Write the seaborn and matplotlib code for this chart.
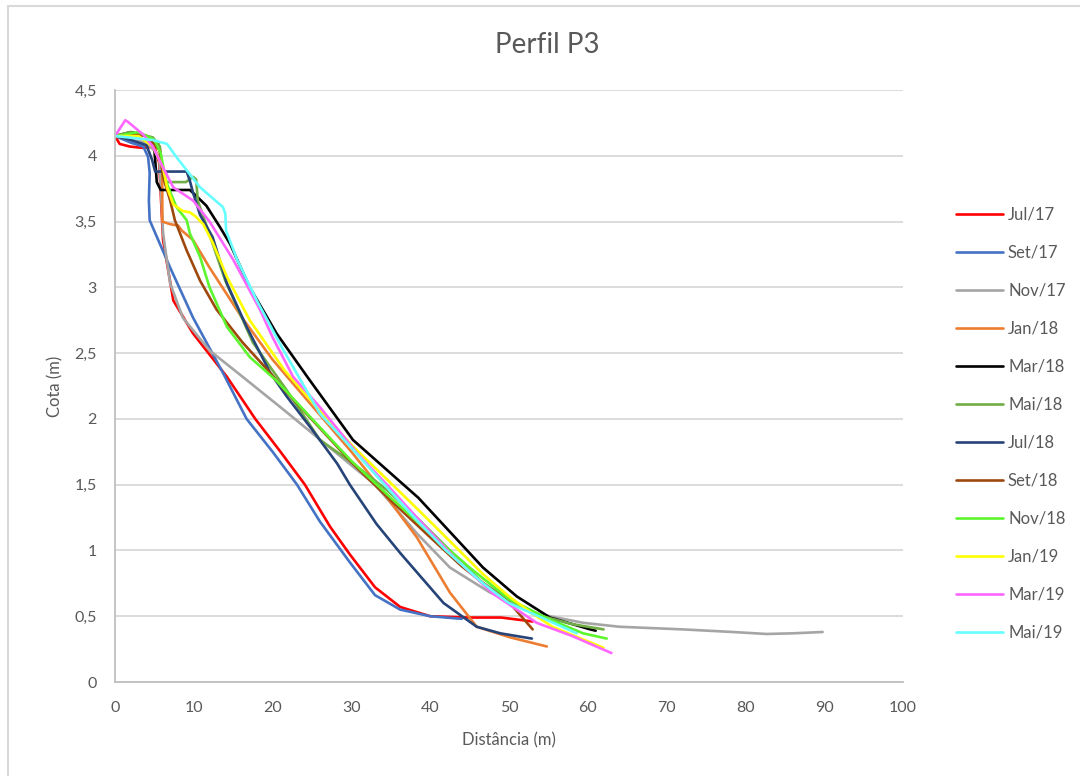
import matplotlib
matplotlib.use('Agg')
import matplotlib.pyplot as plt
import matplotlib.patches as mpatches
import matplotlib.ticker as mticker
import seaborn as sns
import pandas as pd

# === 1. Perfil P3 survey data (distance m, elevation m) ===
jul17_d = [0, 0.6, 1.9, 3.5, 5.0, 5.6, 6.1, 7.4, 9.9, 14.2, 17.8, 21, 24.1, 27.3, 29.8, 33, 36.2, 40, 45, 49, 53]
jul17_z = [4.15, 4.09, 4.07, 4.06, 4.07, 3.95, 3.36, 2.90, 2.65, 2.32, 2.0, 1.75, 1.5, 1.18, 0.97, 0.72, 0.57, 0.50, 0.49, 0.49, 0.46]

set17_d = [0, 2, 3.6, 4.2, 4.4, 4.3, 4.4, 7, 9.9, 13.7, 16.7, 20, 23.1, 26, 29.8, 33, 36.2, 40, 44]
set17_z = [4.15, 4.1, 4.07, 3.99, 3.87, 3.66, 3.51, 3.15, 2.77, 2.35, 2.0, 1.75, 1.5, 1.22, 0.91, 0.66, 0.55, 0.50, 0.48]

nov17_d = [0, 2, 4, 5.6, 6.1, 7, 8.6, 12, 16.2, 21.8, 27.7, 33, 38.3, 42.5, 47.6, 53.5, 59.4, 64, 72, 78.4, 82.7, 86, 89.8]
nov17_z = [4.15, 4.12, 4.1, 4.0, 3.41, 3.03, 2.77, 2.52, 2.32, 2.05, 1.76, 1.5, 1.13, 0.87, 0.68, 0.52, 0.45, 0.42, 0.40, 0.38, 0.365, 0.37, 0.38]

jan18_d = [0, 2, 4, 5.5, 6.0, 6.0, 7, 8, 8.5, 9.9, 12, 16, 20, 25, 30, 33.2, 38.3, 42.5, 45.9, 50.1, 54.8]
jan18_z = [4.15, 4.17, 4.15, 4.1, 3.9, 3.5, 3.48, 3.47, 3.43, 3.36, 3.15, 2.78, 2.45, 2.1, 1.75, 1.51, 1.10, 0.68, 0.42, 0.34, 0.27]

mar18_d = [0, 2, 4, 5.0, 5.3, 5.8, 7, 9.5, 10.4, 11.6, 13.3, 14.6, 17.1, 20.5, 24.4, 30.2, 38.5, 46.7, 51, 55.2, 60.3, 61]
mar18_z = [4.15, 4.18, 4.15, 4.05, 3.80, 3.74, 3.74, 3.74, 3.69, 3.62, 3.46, 3.33, 3.0, 2.65, 2.32, 1.84, 1.40, 0.87, 0.65, 0.49, 0.40, 0.39]

mai18_d = [0, 1.9, 4.8, 5.7, 6.1, 6.6, 9.0, 9.9, 10.3, 10.5, 12, 14, 17.5, 22, 26, 29.8, 34.5, 38.3, 46.7, 53, 58, 62]
mai18_z = [4.15, 4.18, 4.14, 4.07, 3.84, 3.80, 3.80, 3.84, 3.82, 3.66, 3.4, 3.05, 2.58, 2.2, 1.84, 1.68, 1.46, 1.25, 0.75, 0.52, 0.44, 0.40]

jul18_d = [0, 2, 4, 4.7, 5.1, 5.3, 9.1, 9.5, 9.9, 10.8, 12.4, 14.2, 16.7, 19.7, 21.8, 25, 28.2, 29.8, 33.2, 36.2, 41.7, 45.9, 48.9, 52.9]
jul18_z = [4.15, 4.12, 4.08, 3.97, 3.88, 3.88, 3.88, 3.81, 3.72, 3.55, 3.38, 3.03, 2.70, 2.35, 2.17, 1.92, 1.66, 1.5, 1.2, 0.98, 0.60, 0.42, 0.37, 0.33]

set18_d = [0, 2, 4, 5.7, 6.1, 7.0, 7.6, 9.1, 10.8, 12.9, 16.2, 19.7, 21.8, 26, 30, 35, 40, 44, 47, 50.1, 53]
set18_z = [4.15, 4.17, 4.15, 4.04, 3.84, 3.66, 3.51, 3.28, 3.05, 2.83, 2.58, 2.35, 2.2, 1.93, 1.67, 1.38, 1.1, 0.88, 0.74, 0.60, 0.40]

nov18_d = [0, 3, 5, 5.8, 6.5, 7.8, 9.1, 9.5, 10.8, 12, 14.2, 17.1, 20.5, 25, 30, 35, 40, 45, 50, 55, 59.4, 62.4]
nov18_z = [4.15, 4.18, 4.12, 4.02, 3.80, 3.61, 3.51, 3.41, 3.23, 3.0, 2.70, 2.47, 2.29, 2.0, 1.68, 1.4, 1.13, 0.87, 0.63, 0.48, 0.37, 0.33]

jan19_d = [0, 3, 4.8, 6.1, 6.6, 7.4, 8.6, 9.5, 10.2, 11.2, 12.4, 14.2, 17.1, 21.5, 25, 30.2, 34, 38.3, 42, 46.7, 50, 53, 55.5, 62]
jan19_z = [4.15, 4.15, 4.07, 3.91, 3.76, 3.63, 3.58, 3.57, 3.54, 3.48, 3.34, 3.08, 2.75, 2.37, 2.13, 1.79, 1.57, 1.32, 1.1, 0.82, 0.65, 0.52, 0.42, 0.26]

mar19_d = [0, 1.3, 1.6, 2.8, 3.6, 4.8, 6.1, 7.4, 9.9, 12, 15, 18.4, 20, 22.6, 26, 30.7, 34.5, 38.3, 43, 48, 53.5, 58, 63]
mar19_z = [4.15, 4.27, 4.26, 4.2, 4.16, 4.07, 3.91, 3.76, 3.66, 3.50, 3.21, 2.83, 2.62, 2.32, 2.09, 1.74, 1.5, 1.25, 0.95, 0.67, 0.45, 0.35, 0.22]

mai19_d = [0, 4.8, 6.6, 7.8, 9.1, 10.8, 13.7, 14.0, 14.1, 15.5, 18, 21.3, 26, 30, 34.5, 38.3, 42, 46.7, 50, 53, 58.6]
mai19_z = [4.15, 4.12, 4.09, 3.99, 3.89, 3.76, 3.61, 3.56, 3.43, 3.21, 2.90, 2.53, 2.04, 1.78, 1.48, 1.23, 1.0, 0.75, 0.6, 0.52, 0.37]

series_names = ['Jul/17', 'Set/17', 'Nov/17', 'Jan/18', 'Mar/18', 'Mai/18',
                'Jul/18', 'Set/18', 'Nov/18', 'Jan/19', 'Mar/19', 'Mai/19']
series_d = [jul17_d, set17_d, nov17_d, jan18_d, mar18_d, mai18_d,
            jul18_d, set18_d, nov18_d, jan19_d, mar19_d, mai19_d]
series_z = [jul17_z, set17_z, nov17_z, jan18_z, mar18_z, mai18_z,
            jul18_z, set18_z, nov18_z, jan19_z, mar19_z, mai19_z]
colors = ['#FF0000', '#4472C4', '#A5A5A5', '#ED7D31', '#000000', '#70AD47',
          '#264478', '#9E480E', '#5CF52E', '#FFFF00', '#FF66FF', '#66FFFF']

# === 2. Long format ===
frames = []
for name, d, z in zip(series_names, series_d, series_z):
    frames.append(pd.DataFrame({'Distância': d, 'Cota': z, 'Data': name}))
df = pd.concat(frames, ignore_index=True)

# === 3. Plot ===
sns.set_style('white')
plt.rcParams['font.family'] = ['Lato', 'DejaVu Sans']

fig = plt.figure(figsize=(10.8, 7.76), dpi=100)
ax = fig.add_axes([115 / 1080, 94 / 776, 788 / 1080, 592 / 776])

sns.lineplot(data=df, x='Distância', y='Cota', hue='Data', hue_order=series_names,
             palette=colors, sort=False, estimator=None, linewidth=1.9, ax=ax)

ax.set_xlim(0, 100)
ax.set_ylim(0, 4.5)
ax.xaxis.set_major_locator(mticker.MultipleLocator(10))
ax.yaxis.set_major_locator(mticker.MultipleLocator(0.5))
ax.yaxis.set_major_formatter(mticker.FuncFormatter(lambda v, p: f'{v:g}'.replace('.', ',')))
ax.grid(axis='y', color='#D9D9D9', linewidth=1.3)
ax.set_axisbelow(True)
for s in ['top', 'right']:
    ax.spines[s].set_visible(False)
for s in ['left', 'bottom']:
    ax.spines[s].set_color('#BFBFBF')
    ax.spines[s].set_linewidth(1.3)
ax.tick_params(axis='both', length=0, labelsize=11.5, colors='#595959')
ax.tick_params(axis='x', pad=14)
ax.tick_params(axis='y', pad=13)

ax.set_xlabel('Distância (m)', fontsize=12, color='#595959', labelpad=12)
ax.set_ylabel('Cota (m)', fontsize=12, color='#595959', labelpad=8)
fig.text(547 / 1080, (776 - 45) / 776, 'Perfil P3', fontsize=20, color='#595959',
         ha='center', va='center')

handles, labels = ax.get_legend_handles_labels()
ax.legend(handles, labels, loc='upper left', bbox_to_anchor=(948 / 1080, 578 / 776),
          bbox_transform=fig.transFigure, frameon=False, fontsize=12,
          handlelength=2.8, handletextpad=0.3, labelspacing=1.32, borderpad=0,
          labelcolor='#595959')

# chart area border
fig.patches.append(mpatches.Rectangle((8 / 1080, -0.1), 1.2, (770 / 776) + 0.1,
                                      transform=fig.transFigure, fill=False,
                                      edgecolor='#D9D9D9', linewidth=1.5))

plt.savefig('out.png', dpi=100)
